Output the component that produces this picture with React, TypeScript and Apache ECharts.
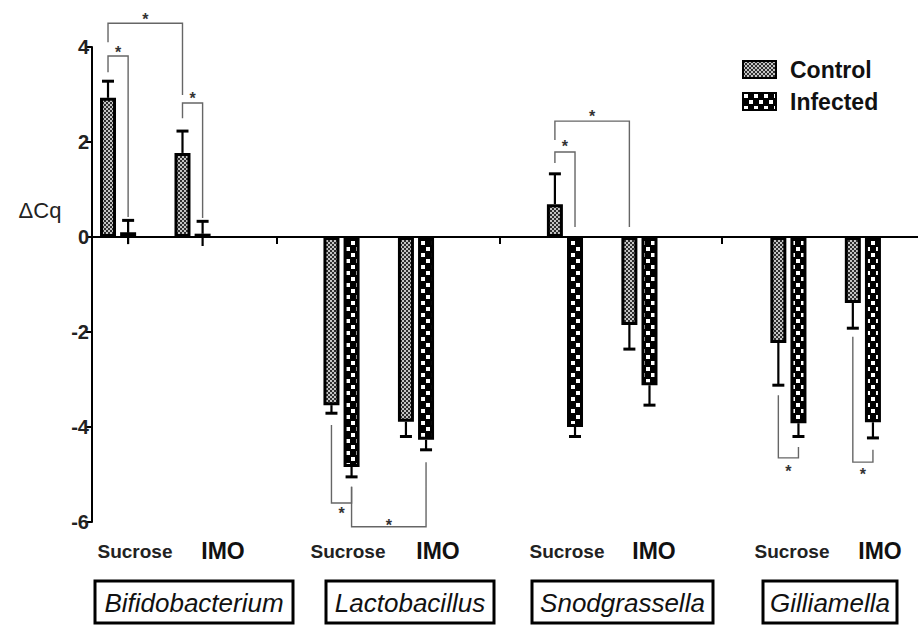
import React, { useEffect, useRef } from 'react';
import * as echarts from 'echarts';

// ---------- data ----------
const BACTERIA = ['Bifidobacterium', 'Lactobacillus', 'Snodgrassella', 'Gilliamella'];
const TREATMENTS = ['Sucrose', 'IMO'];
const SERIES_NAMES = ['Control', 'Infected'];
// order: Bifido S, Bifido IMO, Lacto S, Lacto IMO, Snod S, Snod IMO, Gill S, Gill IMO
const CONTROL_MEAN = [2.93, 1.77, -3.54, -3.89, 0.69, -1.85, -2.23, -1.39];
const CONTROL_ERR = [0.35, 0.46, 0.17, 0.31, 0.64, 0.51, 0.89, 0.53];
const INFECTED_MEAN = [0.1, 0.07, -4.84, -4.27, -4.0, -3.12, -3.92, -3.9];
const INFECTED_ERR = [0.25, 0.26, 0.21, 0.21, 0.2, 0.42, 0.28, 0.33];
const Y_MIN = -6;
const Y_MAX = 4;
const Y_STEP = 2;
const Y_NAME = 'ΔCq';
// significance brackets: [slotA, seriesA, yA, slotB, seriesB, yB, yBar, yStar]
const BRACKETS: [number, number, number, number, number, number, number, number][] = [
  [0, 0, 3.47, 0, 1, 0.42, 3.81, 3.96],
  [0, 0, 4.1, 1, 0, 2.99, 4.5, 4.67],
  [1, 0, 2.5, 1, 1, 0.4, 2.82, 2.99],
  [2, 0, -3.96, 2, 1, -5.26, -5.6, -5.73],
  [2, 1, -5.26, 3, 1, -4.74, -6.1, -5.98],
  [4, 0, 1.56, 4, 1, 0.21, 1.79, 1.98],
  [4, 0, 2.04, 5, 0, 0.21, 2.44, 2.63],
  [6, 0, -3.33, 6, 1, -4.42, -4.65, -4.86],
  [7, 0, -2.1, 7, 1, -4.48, -4.74, -4.92],
];
const STAR = '*';

// ---------- layout ----------
const FONT = 'Liberation Sans, Arial, Helvetica, sans-serif';
const BAR_OFFSET = 0.135; // half distance between paired bars (axis units)
const X_MIN = -0.35;
const X_MAX = 10.74;
const X_TICKS = [2.13, 5.13, 8.1];
const slotX = (slot: number) => Math.floor(slot / 2) * 3 + (slot % 2);
const barX = (slot: number, s: number) => slotX(slot) + (s === 0 ? -BAR_OFFSET : BAR_OFFSET);
const SUCROSE_CX = [135, 348, 567, 792];
const IMO_CX = [223, 438, 654, 880];
const TREAT_Y = 551;
const BOXES = [
  [95, 293],
  [326, 494],
  [532, 713],
  [763, 897],
];
const BOX_Y = 581;
const BOX_H = 42;

function makePattern(kind: 'control' | 'infected') {
  const c = document.createElement('canvas');
  const ctx = c.getContext('2d')!;
  if (kind === 'control') {
    c.width = 4;
    c.height = 4;
    ctx.fillStyle = '#c4c4c4';
    ctx.fillRect(0, 0, 4, 4);
    ctx.fillStyle = '#2e2e2e';
    ctx.fillRect(0, 0, 2, 2);
    ctx.fillRect(2, 2, 2, 2);
  } else {
    c.width = 10;
    c.height = 12;
    ctx.fillStyle = '#000';
    ctx.fillRect(0, 0, 10, 12);
    ctx.fillStyle = '#fff';
    ctx.fillRect(1, 1, 4, 4);
    ctx.fillRect(6, 7, 4, 4);
  }
  return c;
}

export default function App() {
  const ref = useRef<HTMLDivElement>(null);
  useEffect(() => {
    if (!ref.current) return;
    const chart = echarts.init(ref.current, undefined, { renderer: 'svg' });
    const ctrlPat = { image: makePattern('control'), repeat: 'repeat' };
    const infPat = { image: makePattern('infected'), repeat: 'repeat' };
    const slots = CONTROL_MEAN.map((_, i) => i);

    const errData: number[][] = [];
    slots.forEach((i) => {
      errData.push([barX(i, 0), CONTROL_MEAN[i], CONTROL_ERR[i]]);
      errData.push([barX(i, 1), INFECTED_MEAN[i], INFECTED_ERR[i]]);
    });
    const brData = BRACKETS.map((b) => [barX(b[0], b[1]), b[2], barX(b[3], b[4]), b[5], b[6], b[7]]);

    const graphics: any[] = [
      {
        type: 'text',
        x: 40,
        y: 210,
        style: { text: Y_NAME, font: `22px ${FONT}`, fill: '#222', align: 'center', verticalAlign: 'middle' },
      },
    ];
    BACTERIA.forEach((name, g) => {
      graphics.push({
        type: 'text',
        x: SUCROSE_CX[g],
        y: TREAT_Y,
        style: { text: TREATMENTS[0], font: `bold 19px ${FONT}`, fill: '#222', align: 'center', verticalAlign: 'middle' },
      });
      graphics.push({
        type: 'text',
        x: IMO_CX[g],
        y: TREAT_Y,
        style: { text: TREATMENTS[1], font: `bold 23px ${FONT}`, fill: '#111', align: 'center', verticalAlign: 'middle' },
      });
      const [x0, x1] = BOXES[g];
      graphics.push({
        type: 'rect',
        shape: { x: x0, y: BOX_Y, width: x1 - x0, height: BOX_H },
        style: { fill: '#fff', stroke: '#000', lineWidth: 3 },
      });
      graphics.push({
        type: 'text',
        x: (x0 + x1) / 2,
        y: BOX_Y + BOX_H / 2 + 1,
        style: { text: name, font: `italic 26px ${FONT}`, fill: '#111', align: 'center', verticalAlign: 'middle' },
      });
    });

    chart.setOption({
      animation: false,
      backgroundColor: '#fff',
      grid: { left: 92, right: 0, top: 47, bottom: 106, containLabel: false },
      legend: {
        orient: 'vertical',
        left: 742,
        top: 58,
        icon: 'rect',
        itemWidth: 33,
        itemHeight: 17,
        itemGap: 9,
        padding: 0,
        data: SERIES_NAMES,
        textStyle: {
          fontSize: 23,
          lineHeight: 23,
          fontWeight: 'bold',
          color: '#111',
          fontFamily: FONT,
          padding: [0, 0, 0, 9],
        },
      },
      xAxis: {
        type: 'value',
        min: X_MIN,
        max: X_MAX,
        axisLine: { show: true, onZero: true, lineStyle: { color: '#000', width: 2 } },
        axisTick: { show: true, customValues: X_TICKS, length: 7, lineStyle: { color: '#000', width: 2 } },
        axisLabel: { show: false },
        splitLine: { show: false },
      },
      yAxis: {
        type: 'value',
        min: Y_MIN,
        max: Y_MAX,
        interval: Y_STEP,
        axisLine: { show: true, onZero: false, lineStyle: { color: '#000', width: 2 } },
        axisTick: { show: true, length: 6, lineStyle: { color: '#000', width: 2 } },
        axisLabel: { fontSize: 20, fontWeight: 'bold', color: '#222', margin: 3, fontFamily: FONT },
        splitLine: { show: false },
      },
      series: [
        {
          type: 'bar',
          name: SERIES_NAMES[0],
          data: slots.map((i) => [barX(i, 0), CONTROL_MEAN[i]]),
          barWidth: 16,
          barGap: '-100%',
          itemStyle: { color: ctrlPat, borderColor: '#000', borderWidth: 3 },
          z: 2,
        },
        {
          type: 'bar',
          name: SERIES_NAMES[1],
          data: slots.map((i) => [barX(i, 1), INFECTED_MEAN[i]]),
          barWidth: 16,
          barGap: '-100%',
          itemStyle: { color: infPat, borderColor: '#000', borderWidth: 3 },
          z: 2,
        },
        {
          type: 'custom',
          name: 'err',
          clip: false,
          z: 3,
          data: errData,
          renderItem: (params: any, api: any) => {
            const x = api.value(0);
            const m = api.value(1);
            const e = api.value(2);
            const s = m >= 0 ? 1 : -1;
            const p0 = api.coord([x, m]);
            const p1 = api.coord([x, m + s * e]);
            const children: any[] = [
              { type: 'line', shape: { x1: p0[0], y1: p0[1], x2: p1[0], y2: p1[1] }, style: { stroke: '#000', lineWidth: 2.2 } },
              { type: 'line', shape: { x1: p1[0] - 6, y1: p1[1], x2: p1[0] + 6, y2: p1[1] }, style: { stroke: '#000', lineWidth: 3 } },
            ];
            if (Math.abs(m) < e) {
              const p2 = api.coord([x, m - s * e]);
              children.push({ type: 'line', shape: { x1: p0[0], y1: p0[1], x2: p2[0], y2: p2[1] }, style: { stroke: '#000', lineWidth: 2.2 } });
            }
            return { type: 'group', children };
          },
        },
        {
          type: 'custom',
          name: 'sig',
          clip: false,
          z: 4,
          data: brData,
          renderItem: (params: any, api: any) => {
            const xa = api.value(0);
            const ya = api.value(1);
            const xb = api.value(2);
            const yb = api.value(3);
            const yBar = api.value(4);
            const yStar = api.value(5);
            const a = api.coord([xa, ya]);
            const a2 = api.coord([xa, yBar]);
            const b2 = api.coord([xb, yBar]);
            const b = api.coord([xb, yb]);
            const st = api.coord([(xa + xb) / 2, yStar]);
            return {
              type: 'group',
              children: [
                {
                  type: 'polyline',
                  shape: { points: [a, a2, b2, b] },
                  style: { stroke: '#666', lineWidth: 1.4, fill: 'none' },
                },
                {
                  type: 'text',
                  x: st[0],
                  y: st[1] + 4,
                  style: { text: STAR, font: `bold 16px ${FONT}`, fill: '#333', align: 'center', verticalAlign: 'middle' },
                },
              ],
            };
          },
        },
      ],
      graphic: graphics,
    });
    return () => chart.dispose();
  }, []);
  return <div ref={ref} style={{ position: 'fixed', left: 0, top: 0, width: 918, height: 628, background: '#fff' }} />;
}
